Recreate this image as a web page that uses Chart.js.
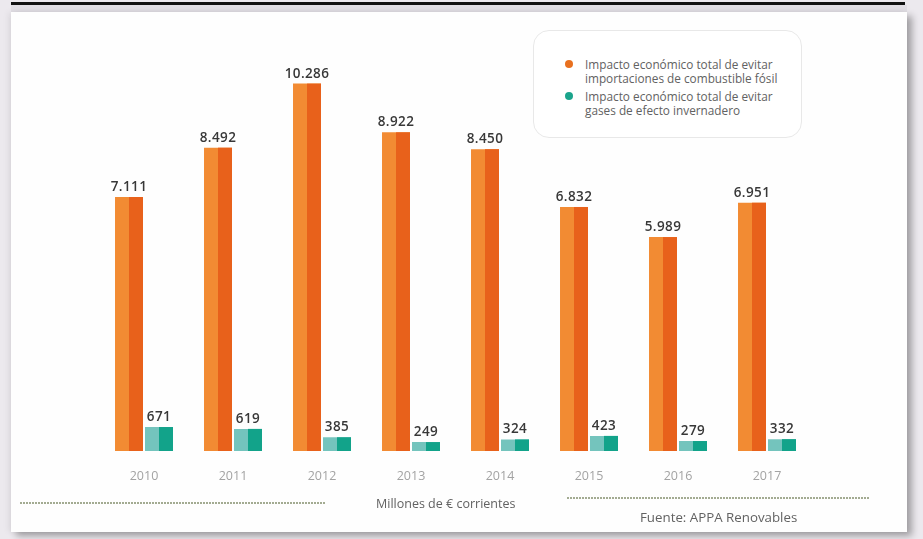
<!DOCTYPE html>
<html lang="es">
<head>
<meta charset="utf-8">
<title>Impacto económico de las renovables</title>
<script src="https://cdn.jsdelivr.net/npm/chart.js@4/dist/chart.umd.min.js"></script>
<style>
  html, body { margin: 0; padding: 0; }
  body {
    width: 923px; height: 539px; overflow: hidden; position: relative;
    background: #ece9ee;
    font-family: "Open Sans", "DejaVu Sans", sans-serif;
  }
  .topbar { position: absolute; left: 11px; top: 2px; width: 894px; height: 3px; background: #121212; }
  .topshade { position: absolute; left: 11px; top: 5px; width: 896px; height: 7px; background: #e1dee4; }
  .panel {
    position: absolute; left: 11px; top: 12px; width: 896px; height: 520px;
    background: #fefefe;
    box-shadow: 5px 4px 7px rgba(0,0,0,0.32), -3px 0 6px rgba(0,0,0,0.06);
  }
  #wrap { position: absolute; left: 0; top: 0; width: 923px; height: 539px; }
  .legend {
    position: absolute; left: 533px; top: 30px; width: 267px; height: 106px;
    border: 1px solid #e8e8e8; border-radius: 16px; background: #fff;
  }
  .legend .item { position: absolute; left: 51px; font-size: 11.8px; line-height: 14px; color: #626262; }
  .legend .dot { position: absolute; left: -20px; top: 3px; width: 8px; height: 8px; border-radius: 50%; }
  .dots { position: absolute; height: 2px;
    background: repeating-linear-gradient(to right, #a3ab92 0 2px, transparent 2px 3px); }
  .note { position: absolute; color: #626262; white-space: nowrap; }
</style>
</head>
<body>
<div class="topbar"></div>
<div class="topshade"></div>
<div class="panel"></div>
<div id="wrap"><canvas id="chart" width="923" height="539"></canvas></div>
<div class="legend" id="legend"></div>
<div class="dots" style="left:20px; top:502px; width:305px;"></div>
<div class="note" style="left:376px; top:495px; font-size:12.5px;">Millones de € corrientes</div>
<div class="dots" style="left:567px; top:497px; width:303px;"></div>
<div class="note" style="left:640px; top:508px; font-size:13.3px;">Fuente: APPA Renovables</div>

<script>
// Años y valores (millones de euros corrientes)
const years = ['2010', '2011', '2012', '2013', '2014', '2015', '2016', '2017'];
const fossilImports = [7111, 8492, 10286, 8922, 8450, 6832, 5989, 6951];
const greenhouseGases = [671, 619, 385, 249, 324, 423, 279, 332];

const fossilLabel = ['Impacto económico total de evitar', 'importaciones de combustible fósil'];
const gasesLabel = ['Impacto económico total de evitar', 'gases de efecto invernadero'];

// colores: mitad clara / mitad oscura de cada barra
const orangeLight = '#f28b33', orangeDark = '#e8611b';
const tealLight = '#74c4bd', tealDark = '#12a38a';

// formato español: 7111 -> 7.111
function fmt(v) {
    return String(v).replace(/\B(?=(\d{3})+(?!\d))/g, '.');
}

// pinta la mitad derecha de cada barra con el tono oscuro y el valor encima
const twoTonePlugin = {
    id: 'twoTone',
    afterDatasetsDraw(chart) {
        const ctx = chart.ctx;
        ctx.save();
        chart.data.datasets.forEach((ds, i) => {
            const meta = chart.getDatasetMeta(i);
            meta.data.forEach((bar, j) => {
                const { x, y, base, width } = bar.getProps(['x', 'y', 'base', 'width'], true);
                ctx.fillStyle = ds.darkColor;
                ctx.fillRect(x, y, width / 2, base - y);

                ctx.fillStyle = '#383838';
                ctx.font = '600 13.5px "Open Sans", sans-serif';
                ctx.letterSpacing = '0.4px';
                ctx.textAlign = 'center';
                ctx.textBaseline = 'alphabetic';
                ctx.fillText(fmt(ds.data[j]), x, y - 6);
            });
        });
        ctx.restore();
    }
};

const ctx = document.getElementById('chart').getContext('2d');
const chart = new Chart(ctx, {
    type: 'bar',
    data: {
        labels: years,
        datasets: [{
            label: fossilLabel,
            data: fossilImports,
            backgroundColor: orangeLight,
            darkColor: orangeDark,
            dotColor: '#e8701f',
            borderWidth: 0,
            categoryPercentage: 0.674,
            barPercentage: 0.933
        }, {
            label: gasesLabel,
            data: greenhouseGases,
            backgroundColor: tealLight,
            darkColor: tealDark,
            dotColor: '#1ba48c',
            borderWidth: 0,
            categoryPercentage: 0.674,
            barPercentage: 0.933
        }]
    },
    options: {
        responsive: false,
        animation: false,
        layout: { padding: { left: 99.5, right: 111.5, top: 22.4, bottom: 0 } },
        scales: {
            x: {
                grid: { display: false, drawTicks: false },
                border: { display: false },
                ticks: {
                    color: '#a3a3a3',
                    font: { family: '"Open Sans", sans-serif', size: 12.5 },
                    padding: 18
                },
                afterFit(scale) { scale.height = 88; }
            },
            y: {
                display: false,
                min: 0,
                max: 12000
            }
        },
        plugins: {
            legend: { display: false },
            tooltip: { enabled: false }
        }
    },
    plugins: [twoTonePlugin]
});

// leyenda en HTML con las etiquetas de dos líneas
const legendEl = document.getElementById('legend');
const legendTops = [26, 58];
chart.data.datasets.forEach((ds, i) => {
    const item = document.createElement('div');
    item.className = 'item';
    item.style.top = legendTops[i] + 'px';
    const dot = document.createElement('span');
    dot.className = 'dot';
    dot.style.background = ds.dotColor;
    item.appendChild(dot);
    ds.label.forEach((line, k) => {
        if (k > 0) item.appendChild(document.createElement('br'));
        item.appendChild(document.createTextNode(line));
    });
    legendEl.appendChild(item);
});
</script>
</body>
</html>
